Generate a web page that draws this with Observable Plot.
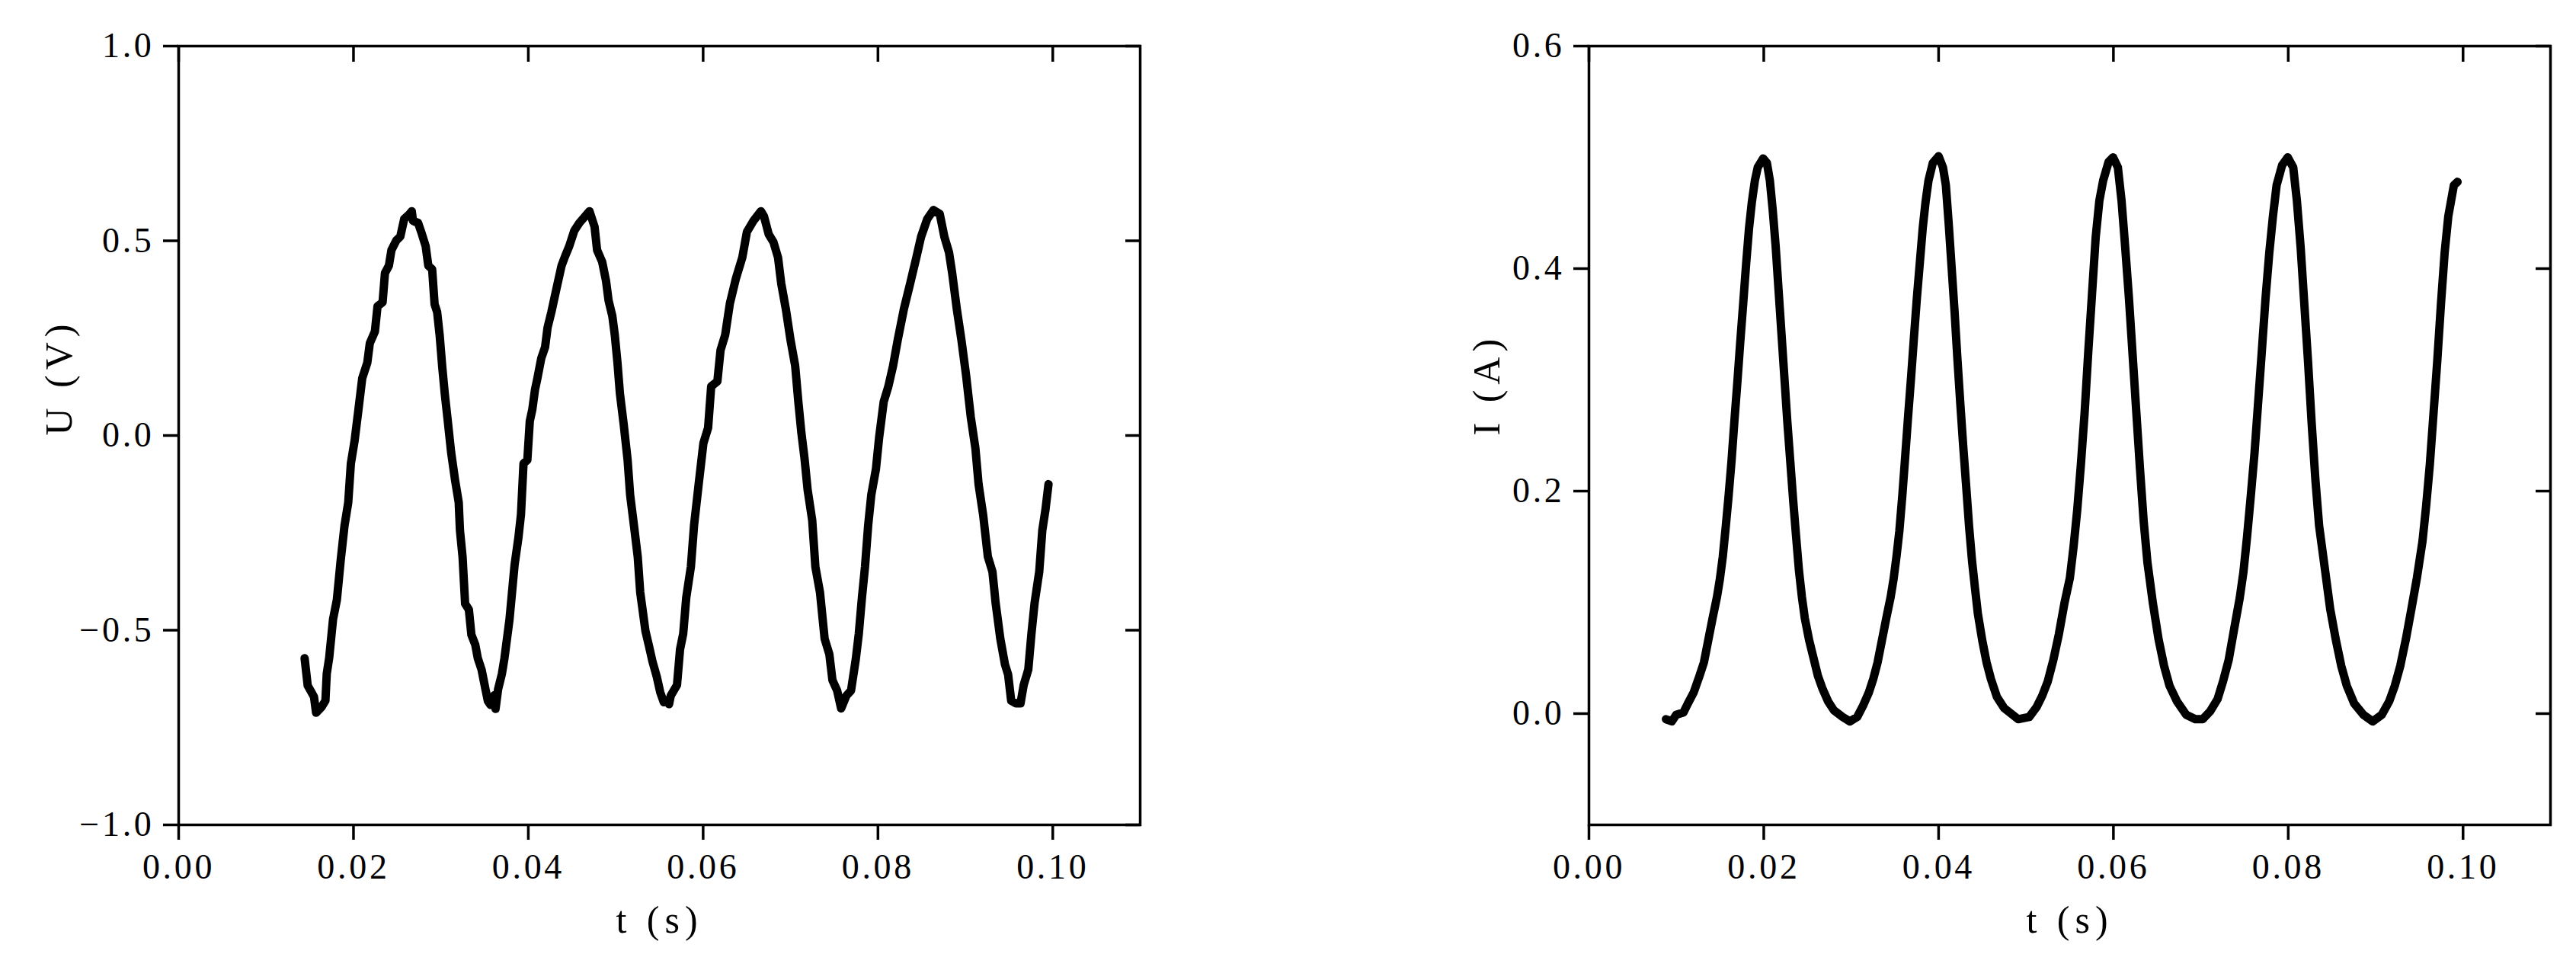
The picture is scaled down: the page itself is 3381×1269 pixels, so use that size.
<!DOCTYPE html>
<html><head><meta charset="utf-8">
<script src="https://cdn.jsdelivr.net/npm/d3@7"></script>
<script src="https://cdn.jsdelivr.net/npm/@observablehq/plot@0.6"></script>
<style>
html,body{margin:0;padding:0;background:#fff;}
#wrap{position:relative;width:3381px;height:1269px;background:#fff;overflow:hidden;}
#left{position:absolute;left:0;top:0;}
#right{position:absolute;left:1690px;top:0;}
#wrap svg g[aria-label$="tick label"] text{letter-spacing:0.08em;}
#wrap svg g[aria-label="text"] text{letter-spacing:0.14em;}
</style></head><body><div id="wrap"><div id="left"></div><div id="right"></div></div>
<script>
const xTicks = [0, 0.02, 0.04, 0.06, 0.08, 0.10];
const uTicks = [-1, -0.5, 0, 0.5, 1];
const iTicks = [0, 0.2, 0.4, 0.6];
const xLabel = "t (s)";
const uLabel = "U (V)";
const iLabel = "I (A)";

const uTime = [0.01441,0.01476,0.01548,0.01572,0.01636,0.01679,0.01694,0.01722,0.01766,0.0181,0.01853,0.01897,0.0194,0.0197,0.02013,0.02057,0.021,0.02158,0.02187,0.02245,0.02275,0.02333,0.0236,0.02405,0.02434,0.0249,0.02536,0.0258,0.02638,0.02667,0.02681,0.02739,0.02783,0.02826,0.02856,0.029,0.02928,0.02957,0.02986,0.03015,0.03044,0.03074,0.03117,0.03161,0.03204,0.03218,0.03248,0.03277,0.0332,0.03349,0.03393,0.03422,0.03466,0.0351,0.03538,0.03567,0.03611,0.03625,0.03654,0.03698,0.03727,0.03756,0.03785,0.03814,0.03843,0.03887,0.03916,0.03945,0.03989,0.04017,0.04046,0.04076,0.04104,0.04148,0.04192,0.0422,0.04264,0.04322,0.0438,0.04424,0.04468,0.04526,0.04584,0.04642,0.047,0.04758,0.04787,0.04845,0.04889,0.04918,0.04961,0.0499,0.0502,0.05048,0.05092,0.05136,0.05165,0.05209,0.05252,0.0528,0.0534,0.0538,0.0542,0.0547,0.0551,0.0555,0.0558,0.0561,0.0563,0.05701,0.05736,0.05772,0.05807,0.0586,0.05896,0.05949,0.06003,0.06057,0.06092,0.06163,0.06199,0.06252,0.06306,0.06376,0.06448,0.06501,0.06572,0.06661,0.06696,0.0675,0.06804,0.06857,0.06893,0.06946,0.07,0.07053,0.07089,0.07124,0.0716,0.07195,0.07248,0.07284,0.07337,0.0739,0.07444,0.07479,0.07533,0.07579,0.07639,0.07692,0.07746,0.07781,0.07817,0.07852,0.07888,0.07924,0.07977,0.08013,0.08066,0.08119,0.08173,0.08226,0.08297,0.08369,0.08439,0.08493,0.08564,0.08635,0.08707,0.0876,0.08813,0.08849,0.08902,0.08955,0.09009,0.09062,0.09115,0.09151,0.09204,0.09257,0.0931,0.09346,0.094,0.09453,0.09489,0.09524,0.09578,0.09631,0.09667,0.0972,0.09756,0.09792,0.09845,0.0988,0.09916,0.09951];
const uVolt = [-0.572,-0.642,-0.671,-0.712,-0.697,-0.681,-0.612,-0.571,-0.472,-0.422,-0.322,-0.232,-0.172,-0.072,-0.013,0.067,0.147,0.187,0.237,0.267,0.332,0.342,0.417,0.436,0.476,0.501,0.511,0.556,0.568,0.576,0.551,0.546,0.517,0.486,0.436,0.427,0.337,0.317,0.257,0.177,0.108,0.047,-0.043,-0.113,-0.172,-0.243,-0.312,-0.432,-0.447,-0.512,-0.537,-0.572,-0.602,-0.652,-0.682,-0.692,-0.667,-0.702,-0.652,-0.612,-0.572,-0.522,-0.472,-0.402,-0.332,-0.262,-0.203,-0.072,-0.063,0.037,0.067,0.117,0.147,0.198,0.227,0.277,0.317,0.377,0.436,0.462,0.486,0.526,0.546,0.561,0.576,0.536,0.476,0.446,0.397,0.347,0.307,0.257,0.187,0.108,0.027,-0.063,-0.153,-0.232,-0.312,-0.402,-0.502,-0.54,-0.58,-0.62,-0.66,-0.685,-0.68,-0.69,-0.668,-0.641,-0.549,-0.509,-0.416,-0.337,-0.231,-0.125,-0.02,0.02,0.126,0.139,0.219,0.258,0.339,0.404,0.457,0.523,0.55,0.576,0.563,0.517,0.497,0.457,0.391,0.325,0.245,0.179,0.087,0.007,-0.059,-0.139,-0.218,-0.337,-0.403,-0.522,-0.562,-0.628,-0.655,-0.701,-0.668,-0.655,-0.575,-0.509,-0.416,-0.337,-0.231,-0.152,-0.086,-0.006,0.087,0.126,0.179,0.245,0.325,0.391,0.457,0.51,0.556,0.579,0.569,0.51,0.47,0.417,0.325,0.245,0.153,0.047,-0.033,-0.125,-0.205,-0.311,-0.35,-0.43,-0.522,-0.588,-0.614,-0.681,-0.688,-0.688,-0.641,-0.601,-0.509,-0.43,-0.35,-0.244,-0.191,-0.125];

const iTime = [0.00881,0.00948,0.00998,0.01081,0.01131,0.01198,0.01265,0.01315,0.01365,0.01415,0.01465,0.01498,0.01531,0.01565,0.01598,0.01631,0.01664,0.01698,0.01731,0.01765,0.01798,0.01831,0.01864,0.01898,0.01931,0.01992,0.02036,0.0207,0.02103,0.02136,0.02169,0.02203,0.02236,0.02269,0.02303,0.02336,0.02369,0.02402,0.02436,0.02469,0.02519,0.02569,0.02619,0.02669,0.02736,0.02802,0.02902,0.02985,0.03069,0.03135,0.03202,0.03252,0.03302,0.03352,0.03402,0.03452,0.03485,0.03518,0.03551,0.03585,0.03618,0.03651,0.03685,0.03718,0.03751,0.03784,0.03818,0.03851,0.03884,0.03934,0.04,0.0405,0.04083,0.04116,0.0415,0.04183,0.04216,0.04249,0.04283,0.04316,0.04349,0.04383,0.04416,0.04449,0.04499,0.04549,0.04599,0.04667,0.0475,0.0491,0.05037,0.05122,0.05185,0.05249,0.05312,0.05375,0.05439,0.05502,0.05544,0.05586,0.05628,0.05671,0.05713,0.05755,0.05797,0.05839,0.05882,0.05945,0.05996,0.06051,0.06093,0.06135,0.06178,0.0622,0.06262,0.06304,0.06346,0.06389,0.06452,0.06516,0.06579,0.06642,0.06727,0.06832,0.06937,0.07022,0.07106,0.07191,0.07254,0.07318,0.07381,0.07445,0.07487,0.07529,0.07572,0.07614,0.07656,0.07698,0.0774,0.07783,0.07825,0.07867,0.0793,0.07994,0.08057,0.08099,0.08142,0.08184,0.08226,0.08268,0.08311,0.08353,0.08416,0.0848,0.08543,0.08606,0.0867,0.08755,0.0886,0.08966,0.0907,0.09155,0.09219,0.09282,0.09346,0.09409,0.09472,0.09536,0.09578,0.0962,0.09663,0.09705,0.09747,0.09789,0.09831,0.09895,0.09937];
const iAmp = [-0.005,-0.007,-0.001,0.001,0.009,0.019,0.034,0.046,0.066,0.086,0.105,0.121,0.141,0.168,0.196,0.227,0.263,0.298,0.334,0.369,0.404,0.436,0.46,0.479,0.491,0.499,0.495,0.479,0.452,0.42,0.381,0.341,0.302,0.263,0.227,0.192,0.16,0.129,0.105,0.086,0.066,0.05,0.034,0.023,0.011,0.003,-0.003,-0.007,-0.003,0.007,0.019,0.031,0.046,0.066,0.086,0.105,0.121,0.141,0.164,0.196,0.231,0.267,0.302,0.338,0.373,0.404,0.436,0.46,0.479,0.495,0.501,0.491,0.475,0.44,0.4,0.361,0.318,0.278,0.239,0.204,0.168,0.137,0.113,0.09,0.066,0.046,0.031,0.015,0.005,-0.005,-0.003,0.006,0.016,0.029,0.048,0.071,0.099,0.122,0.15,0.183,0.224,0.271,0.326,0.377,0.428,0.461,0.479,0.496,0.5,0.491,0.461,0.419,0.373,0.322,0.271,0.22,0.173,0.136,0.099,0.067,0.043,0.025,0.011,-0.001,-0.005,-0.005,0.002,0.013,0.029,0.048,0.076,0.104,0.127,0.159,0.196,0.234,0.28,0.326,0.373,0.414,0.447,0.475,0.493,0.5,0.491,0.461,0.419,0.368,0.317,0.261,0.21,0.169,0.132,0.094,0.067,0.043,0.025,0.009,-0.001,-0.007,-0.001,0.011,0.025,0.043,0.067,0.094,0.122,0.155,0.187,0.224,0.271,0.317,0.368,0.414,0.447,0.475,0.478];

function panel({time, values, yDomain, yTicks, yLabel, width, marginLeft, marginRight, labelDx}) {
  const data = time.map((t, i) => ({t, v: values[i]}));
  return Plot.plot({
    width, height: 1269, marginLeft, marginRight, marginTop: 60, marginBottom: 187,
    style: {fontFamily: "Liberation Serif", fontSize: "46px", color: "#000", background: "transparent", overflow: "visible"},
    x: {domain: [0, 0.11]},
    y: {domain: yDomain},
    marks: [
      Plot.line(data, {x: "t", y: "v", stroke: "#000", strokeWidth: 11, strokeLinejoin: "round", strokeLinecap: "round"}),
      Plot.frame({stroke: "#000", strokeWidth: 3.5}),
      Plot.axisX({anchor: "bottom", ticks: xTicks, tickSize: 20, tickPadding: 18, strokeWidth: 3.5, tickFormat: d3.format(".2f"), label: null, fontSize: 46, fontFamily: "Liberation Serif"}),
      Plot.axisX({anchor: "top", ticks: xTicks, tickSize: 20, dy: 20, strokeWidth: 3.5, tickFormat: () => "", label: null}),
      Plot.axisY({anchor: "left", ticks: yTicks, tickSize: 20, tickPadding: 12, strokeWidth: 3.5, tickFormat: d3.format(".1f"), label: null, fontSize: 46, fontFamily: "Liberation Serif"}),
      Plot.axisY({anchor: "right", ticks: yTicks, tickSize: 20, dx: -20, strokeWidth: 3.5, tickFormat: () => "", label: null}),
      Plot.text([xLabel], {frameAnchor: "bottom", dy: 125, text: d => d, fontSize: 50, fontFamily: "Liberation Serif", lineAnchor: "middle"}),
      Plot.text([yLabel], {frameAnchor: "left", dx: labelDx, rotate: -90, text: d => d, fontSize: 50, fontFamily: "Liberation Serif", lineAnchor: "middle"})
    ]
  });
}

document.getElementById("left").append(panel({
  time: uTime, values: uVolt, yDomain: [-1, 1], yTicks: uTicks, yLabel: uLabel,
  width: 1690, marginLeft: 234, marginRight: 194, labelDx: -157
}));
document.getElementById("right").append(panel({
  time: iTime, values: iAmp, yDomain: [-0.1, 0.6], yTicks: iTicks, yLabel: iLabel,
  width: 1691, marginLeft: 395, marginRight: 34, labelDx: -134
}));
</script></body></html>
